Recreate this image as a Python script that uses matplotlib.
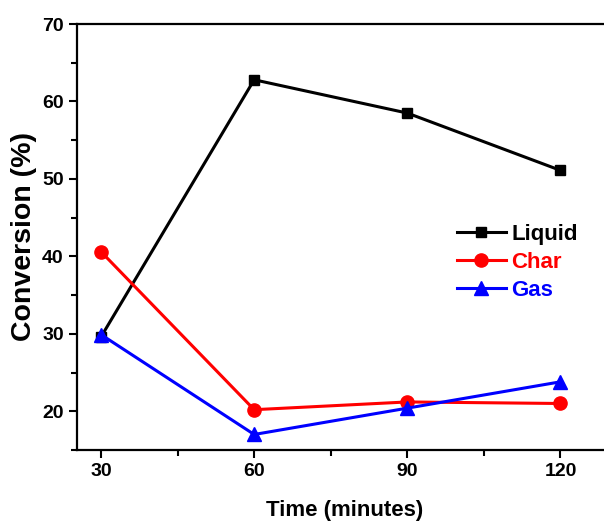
import matplotlib.pyplot as plt
from matplotlib.ticker import MultipleLocator

plt.rcParams['font.family'] = ['Liberation Sans', 'DejaVu Sans']
plt.rcParams['font.weight'] = 'bold'

# veriler
time = [30, 60, 90, 120]
liquid = [29.6, 62.8, 58.5, 51.1]
char = [40.6, 20.2, 21.2, 21.0]
gas = [29.9, 17.0, 20.4, 23.8]

fig = plt.figure(figsize=(6.04, 5.22), dpi=100)
ax = fig.add_axes([0.1275, 0.138, 0.885, 0.816])

ax.plot(time, liquid, color='black', lw=2.2, marker='s', ms=7.5, label='Liquid')
ax.plot(time, char, color='red', lw=2.2, marker='o', ms=9.5, label='Char')
ax.plot(time, gas, color='blue', lw=2.2, marker='^', ms=10.5, label='Gas')

ax.set_xlim(25.3, 130)
ax.set_ylim(15, 70)
ax.set_xticks(time)
ax.xaxis.set_minor_locator(MultipleLocator(15))
ax.yaxis.set_major_locator(MultipleLocator(10))
ax.yaxis.set_minor_locator(MultipleLocator(5))

ax.spines['right'].set_visible(False)
for s in ['left', 'bottom', 'top']:
    ax.spines[s].set_linewidth(1.6)
ax.tick_params(which='both', direction='out', width=1.5, labelsize=14)
ax.tick_params(which='major', length=6)
ax.tick_params(which='minor', length=4)

ax.set_xlabel('Time (minutes)', fontsize=16, fontweight='bold', labelpad=14)
ax.set_ylabel('Conversion (%)', fontsize=20.5, fontweight='bold', labelpad=4)

leg = ax.legend(loc='upper left', bbox_to_anchor=(0.69, 0.556), frameon=False,
                fontsize=16, handlelength=2.2, handletextpad=0.25,
                labelspacing=0.3, borderpad=0)
for text, line in zip(leg.get_texts(), leg.get_lines()):
    text.set_color(line.get_color())

plt.savefig('out.png', dpi=100)
